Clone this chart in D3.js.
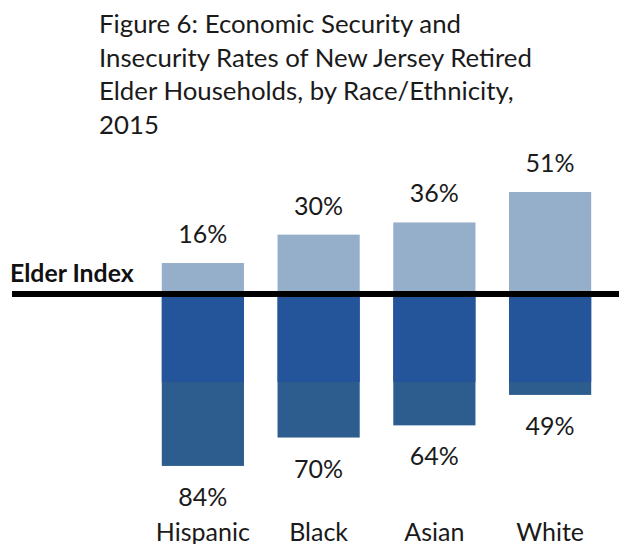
<!DOCTYPE html>
<html>
<head>
<meta charset="utf-8">
<script src="https://cdn.jsdelivr.net/npm/d3@7"></script>
<style>
  html, body { margin: 0; padding: 0; background: #fff; }
  svg { display: block; }
</style>
</head>
<body>
<div id="chart"></div>
<script>
// Daten
const categories = ["Hispanic", "Black", "Asian", "White"];
const securityRates = [16, 30, 36, 51];     // über dem Elder Index
const insecurityRates = [84, 70, 64, 49];   // unter dem Elder Index
const titleLines = [
    "Figure 6: Economic Security and",
    "Insecurity Rates of New Jersey Retired",
    "Elder Households, by Race/Ethnicity,",
    "2015"
];
const indexLabel = "Elder Index";
const bandLevel = 42.6; // dunkleres Band unter der Linie (in %)

const width = 619, height = 544;
const font = "Lato, 'Open Sans', sans-serif";

const svg = d3.select("#chart")
    .append("svg")
    .attr("width", width)
    .attr("height", height);

// Skalen
const x = d3.scaleBand()
    .domain(categories)
    .range([145, 608])
    .paddingInner(0.29)
    .paddingOuter(0.145);

// positive Werte = Sicherheit, negative = Unsicherheit
const y = d3.scaleLinear()
    .domain([-100, 100])
    .range([498.4, 92.6]);

// Titel
svg.append("g")
    .selectAll("text")
    .data(titleLines)
    .join("text")
    .attr("x", 99)
    .attr("y", (d, i) => 33 + i * 33.5)
    .style("font-family", font)
    .style("font-size", "25.8px")
    .style("fill", "#1a1a1a")
    .text(d => d);

// Balken oben (Sicherheit)
svg.append("g")
    .selectAll("rect")
    .data(categories)
    .join("rect")
    .attr("x", d => x(d))
    .attr("width", x.bandwidth())
    .attr("y", (d, i) => y(securityRates[i]))
    .attr("height", (d, i) => y(0) - y(securityRates[i]))
    .style("fill", "#95aec9");

// Balken unten (Unsicherheit)
svg.append("g")
    .selectAll("rect")
    .data(categories)
    .join("rect")
    .attr("x", d => x(d))
    .attr("width", x.bandwidth())
    .attr("y", y(0))
    .attr("height", (d, i) => y(-insecurityRates[i]) - y(0))
    .style("fill", "#2d5d8e");

// dunkleres Band direkt unter der Linie
svg.append("g")
    .selectAll("rect")
    .data(categories)
    .join("rect")
    .attr("x", d => x(d))
    .attr("width", x.bandwidth())
    .attr("y", y(0))
    .attr("height", (d, i) => y(-Math.min(bandLevel, insecurityRates[i])) - y(0))
    .style("fill", "#24549a");

// Elder Index Linie
svg.append("line")
    .attr("x1", 12)
    .attr("x2", width)
    .attr("y1", y(0) - 1.5)
    .attr("y2", y(0) - 1.5)
    .style("stroke", "#000")
    .style("stroke-width", "6px");

svg.append("text")
    .attr("x", 10)
    .attr("y", 282)
    .style("font-family", font)
    .style("font-size", "24.8px")
    .style("font-weight", "700")
    .style("fill", "#111")
    .text(indexLabel);

// Werte-Beschriftungen
svg.append("g")
    .selectAll("text")
    .data(categories)
    .join("text")
    .attr("x", d => x(d) + x.bandwidth() / 2)
    .attr("y", (d, i) => y(securityRates[i]) - 20)
    .attr("text-anchor", "middle")
    .style("font-family", font)
    .style("font-size", "25px")
    .style("fill", "#1a1a1a")
    .text((d, i) => securityRates[i] + "%");

svg.append("g")
    .selectAll("text")
    .data(categories)
    .join("text")
    .attr("x", d => x(d) + x.bandwidth() / 2)
    .attr("y", (d, i) => y(-insecurityRates[i]) + 40)
    .attr("text-anchor", "middle")
    .style("font-family", font)
    .style("font-size", "25px")
    .style("fill", "#1a1a1a")
    .text((d, i) => insecurityRates[i] + "%");

// Kategorien
svg.append("g")
    .selectAll("text")
    .data(categories)
    .join("text")
    .attr("x", d => x(d) + x.bandwidth() / 2)
    .attr("y", 541)
    .attr("text-anchor", "middle")
    .style("font-family", font)
    .style("font-size", "25px")
    .style("fill", "#1a1a1a")
    .text(d => d);
</script>
</body>
</html>
